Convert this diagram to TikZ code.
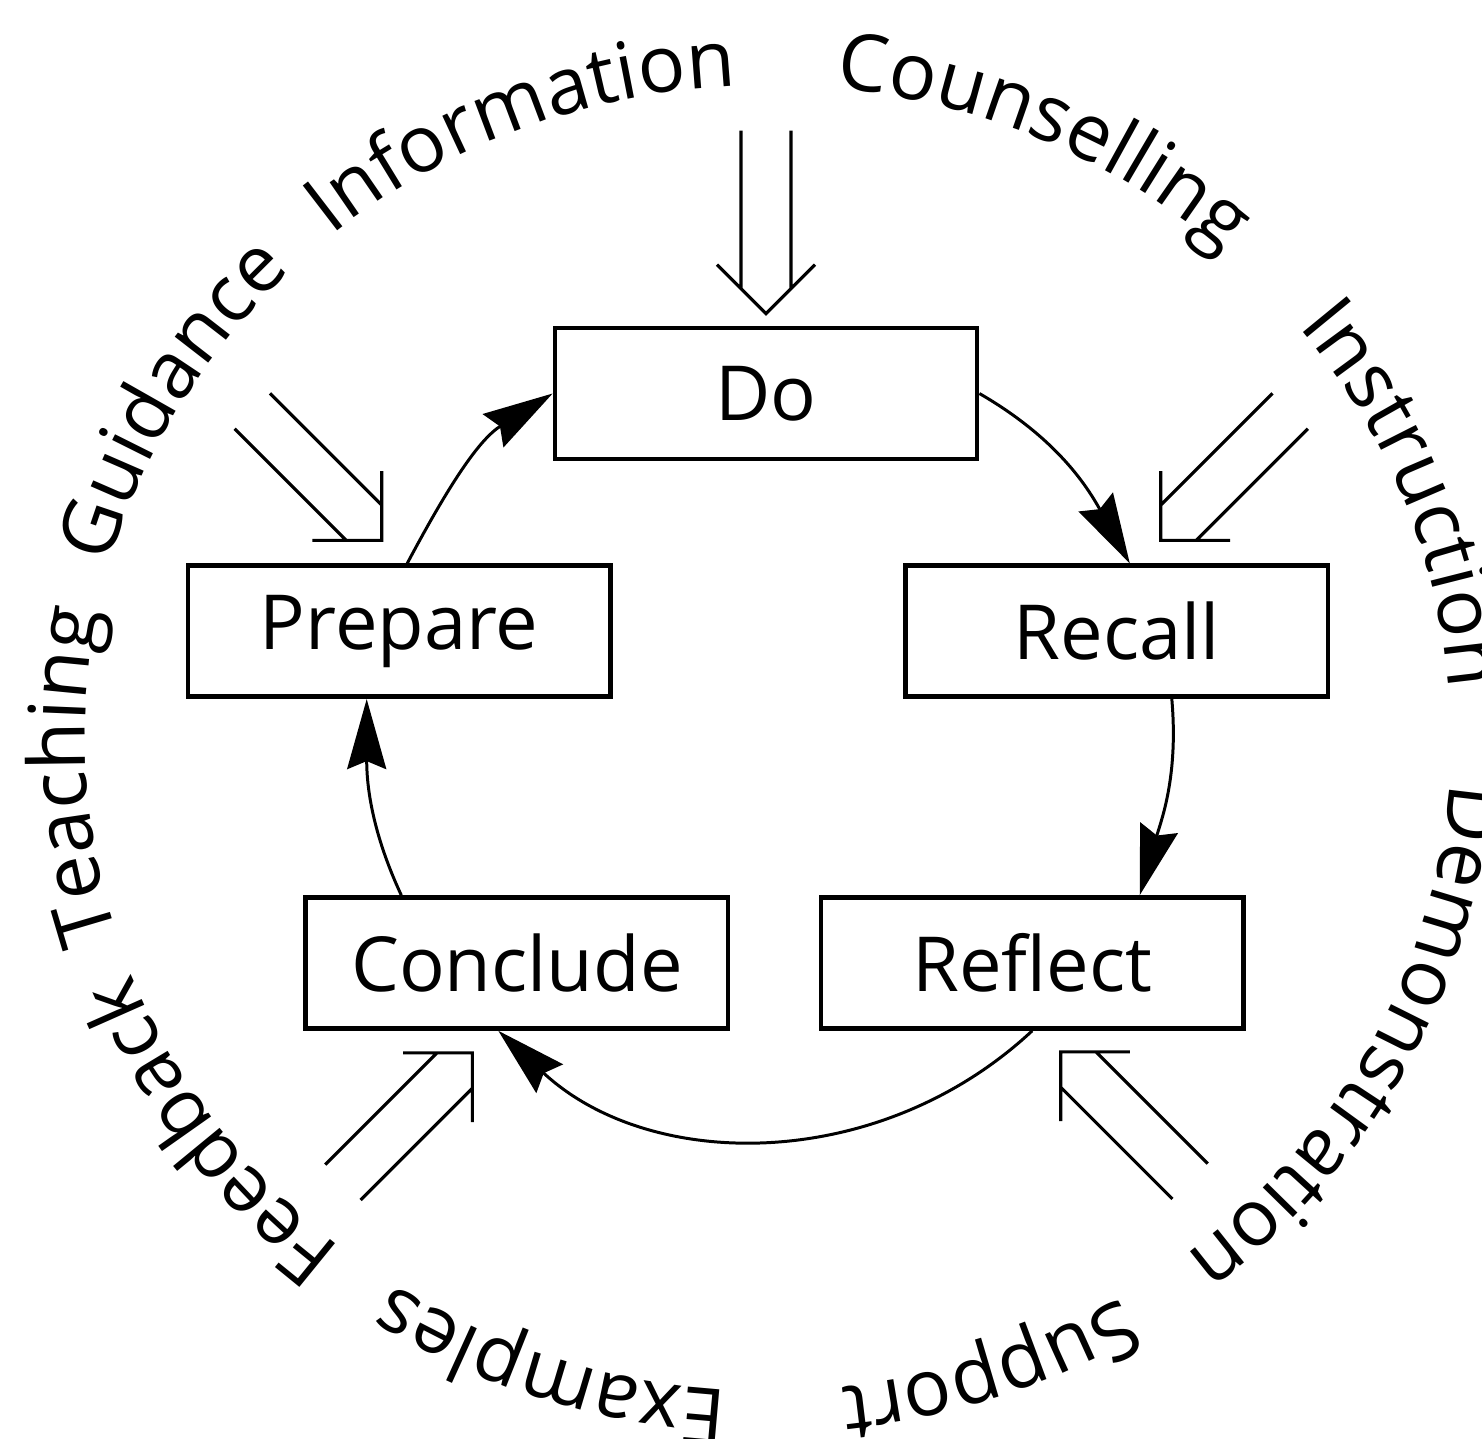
\documentclass[tikz,border=0pt]{standalone}
\usepackage{fontspec}
\setmainfont{Open Sans}
\usetikzlibrary{arrows.meta,positioning,decorations.text}

\newcommand{\ringfont}{\fontsize{22.5}{27}\selectfont}
% one word of the outer ring, centred at angle #1
\newcommand{\ringword}[2]{%
  \path[ringtext=#2] ([shift={(#1+32:683 and 653)}]c)
    arc[start angle=#1+32, end angle=#1-32, x radius=683, y radius=653];}

\begin{document}
\begin{tikzpicture}[x=0.01cm, y=0.01cm,
        stage/.style={draw, line width=1.3pt, minimum width=4.22cm, minimum height=1.31cm,
            inner sep=0pt, font=\fontsize{21.6}{26}\selectfont},
        cyclearrow/.style={line width=0.85pt, -{Stealth[length=7mm, width=3.9mm, inset=0.8mm]}},
        feed/.style={line width=0.9pt},
        ringtext/.style={decorate, decoration={text along path, text align=center, text={|\ringfont|#1}}},
        hollow/.pic={\draw[feed] (-25,25) -- (-183,25) (-25,-25) -- (-183,-25)
            (-49,49) -- (0,0) -- (-49,-49);}]
        \useasboundingbox (0,0) rectangle (1482,-1438);

        % Place nodes
        \node [stage] (Do) at (766,-393.5) {Do};
        \node [stage, below left=1.02cm and -0.60cm of Do] (Prepare) {Prepare};
        \node [stage, below right=1.02cm and -0.76cm of Do] (Recall) {Recall};
        \node [stage, below right=1.96cm and -3.09cm of Prepare] (Conclude) {Conclude};
        \node [stage, below left=1.96cm and -3.42cm of Recall] (Reflect) {Reflect};

        % Draw cycle
        \draw [cyclearrow] ([xshift=0.08cm]Prepare.north) to[out=62, in=212] (Do.west);
        \draw [cyclearrow] (Do.east) to[out=-30, in=119] ([xshift=0.13cm]Recall.north);
        \draw [cyclearrow] ([xshift=0.55cm]Recall.south) to[out=-85, in=74] ([xshift=1.075cm]Reflect.north);
        \draw [cyclearrow] (Reflect.south) to[out=-137, in=-43] ([xshift=-0.185cm]Conclude.south);
        \draw [cyclearrow] ([xshift=-1.155cm]Conclude.north) to[out=115, in=-90] ([xshift=-0.325cm]Prepare.south);

        % Hollow input arrows
        \coordinate (inDo) at ([yshift=0.12cm]Do.north);
        \coordinate (inPrepare) at ([shift={(-0.175cm,0.23cm)}]Prepare.north);
        \coordinate (inRecall) at ([shift={(0.44cm,0.23cm)}]Recall.north);
        \coordinate (inConclude) at ([shift={(-0.445cm,-0.22cm)}]Conclude.south);
        \coordinate (inReflect) at ([shift={(0.285cm,-0.21cm)}]Reflect.south);
        \pic [rotate=-90] at (inDo) {hollow};
        \pic [rotate=-45] at (inPrepare) {hollow};
        \pic [rotate=-135] at (inRecall) {hollow};
        \pic [rotate=45] at (inConclude) {hollow};
        \pic [rotate=135] at (inReflect) {hollow};

        % Outer ring of words
        \coordinate (c) at (768,-738);
        \ringword{183.2}{Teaching}
        \ringword{149.7}{Guidance}
        \ringword{111.3}{Information}
        \ringword{66}{Counselling}
        \ringword{21.5}{Instruction}
        \ringword{-28}{Demonstration}
        \ringword{-71.2}{Support}
        \ringword{-108.5}{Examples}
        \ringword{-144}{Feedback}
    \end{tikzpicture}
\end{document}
